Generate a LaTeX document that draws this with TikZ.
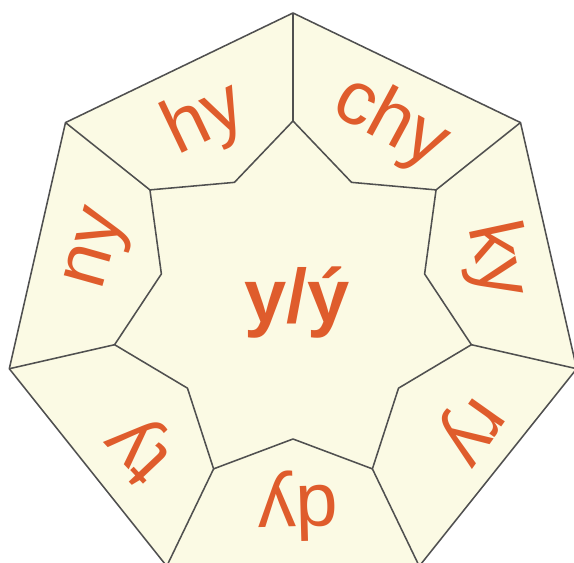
\documentclass[tikz,border=0pt]{standalone}
\usepackage{fontspec}
\setmainfont{Liberation Sans}
\usetikzlibrary{positioning}
\definecolor{cream}{HTML}{FBFAE4}
\definecolor{syll}{HTML}{DF5C2C}
\definecolor{edge}{HTML}{505050}
\tikzset{
  wall/.style={draw=edge, line width=1.1pt, line join=round},
  syllable/.style={text=syll, font=\fontsize{54}{54}\selectfont, inner sep=0pt, anchor=center},
}

\begin{document}
\begin{tikzpicture}[x=0.025cm, y=0.025cm]
    \useasboundingbox (-293,-259) rectangle (281,304);
    \clip (-293,-259) rectangle (281,304);

    % --- Corner points ---
    \foreach \i in {0,...,6} {
        \coordinate (o\i) at ({90+\i*360/7}:291);
        \coordinate (s\i) at ({90+\i*360/7}:183);
        \coordinate (m\i) at ({90+(\i+0.5)*360/7}:135);
    }

    % --- Outer heptagon ---
    \fill[cream] (o0) -- (o1) -- (o2) -- (o3) -- (o4) -- (o5) -- (o6) -- cycle;
    \draw[wall] (o0) -- (o1) -- (o2) -- (o3) -- (o4) -- (o5) -- (o6) -- cycle;

    % --- Inner star ---
    \draw[wall] (s0) -- (m0) -- (s1) -- (m1) -- (s2) -- (m2) -- (s3) -- (m3)
                -- (s4) -- (m4) -- (s5) -- (m5) -- (s6) -- (m6) -- cycle;

    % --- Spokes ---
    \foreach \i in {0,...,6}
        \draw[wall] (o\i) -- (s\i);

    % --- Syllables round the ring ---
    \foreach \t/\a/\r [count=\i from 0] in {hy/115.5/203, ny/164.3/200, ty/223.3/209,
                                            dy/271.5/202, ry/324.7/214, ky/12.1/207, chy/61.6/205}
        \node[syllable, rotate=\a-90] (lab\i) at (\a:\r) {\t};

    % --- Centre ---
    \node[syllable, font=\fontsize{54}{54}\selectfont\bfseries] (core) at (4,1) {y/ý};

\end{tikzpicture}
\end{document}
